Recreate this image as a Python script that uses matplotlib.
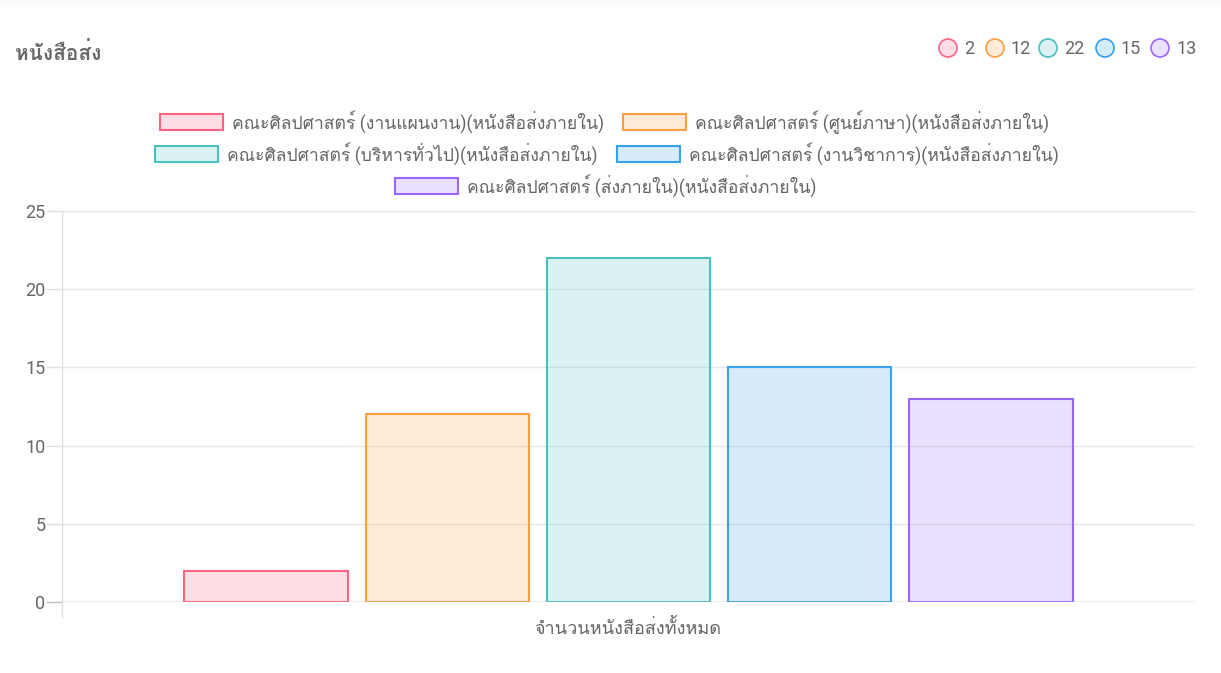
import matplotlib
matplotlib.use("Agg")
import matplotlib.pyplot as plt
from matplotlib.patches import Rectangle, Ellipse

plt.rcParams['font.family'] = ['Roboto', 'Loma', 'Noto Sans Thai Looped', 'DejaVu Sans']

# ---- data ----
title = "หนังสือส่ง"
category = "จำนวนหนังสือส่งทั้งหมด"
series_labels = [
    "คณะศิลปศาสตร์ (งานแผนงาน)(หนังสือส่งภายใน)",
    "คณะศิลปศาสตร์ (ศูนย์ภาษา)(หนังสือส่งภายใน)",
    "คณะศิลปศาสตร์ (บริหารทั่วไป)(หนังสือส่งภายใน)",
    "คณะศิลปศาสตร์ (งานวิชาการ)(หนังสือส่งภายใน)",
    "คณะศิลปศาสตร์ (ส่งภายใน)(หนังสือส่งภายใน)",
]
series_values = [2, 12, 22, 15, 13]
y_ticks = [0, 5, 10, 15, 20, 25]

colors = [(255, 99, 132), (255, 159, 64), (75, 192, 192), (54, 162, 235), (153, 102, 255)]
edge = [tuple(c / 255 for c in rgb) for rgb in colors]
face = [tuple(c / 255 for c in rgb) + (0.2,) for rgb in colors]

W, H = 1221, 673
fig = plt.figure(figsize=(W / 100, H / 100), dpi=100)

def fx(px):
    return px / W

def fy(py):
    return 1 - py / H

FS = 13
TXT = '#666666'

# faint top band
fig.add_artist(Rectangle((0, fy(7)), 1, 7 / H, transform=fig.transFigure,
                         facecolor='#fafafa', edgecolor='none'))

# plot area
x0, x1, yt, yb = 62, 1195, 211, 602
ax = fig.add_axes([fx(x0), fy(yb), fx(x1) - fx(x0), fy(yt) - fy(yb)])
n = len(series_values)
slot = 0.8 / n
bw = slot * 0.9
for i, v in enumerate(series_values):
    xc = -0.4 + slot * (i + 0.5)
    ax.bar(xc, v, width=bw, color=face[i], edgecolor=edge[i], linewidth=1.5, zorder=3)

ax.set_xlim(-0.5, 0.5)
ax.set_ylim(0, 25)
ax.set_yticks(y_ticks)
ax.set_xticks([])
for s in ax.spines.values():
    s.set_visible(False)
ax.yaxis.grid(True, color='#e6e6e6', linewidth=1, zorder=0)
ax.tick_params(axis='y', length=0, pad=12, labelsize=FS, labelcolor=TXT)
ax.axhline(0, color='#bfbfbf', linewidth=1, zorder=4)
ax.axvline(-0.5, color='#e0e0e0', linewidth=1, zorder=1)
for t in y_ticks:
    fig.add_artist(plt.Line2D([fx(47), fx(62)], [fy(yb - (yb - yt) * t / 25)] * 2,
                              color='#e0e0e0' if t else '#bfbfbf', linewidth=1))
fig.add_artist(plt.Line2D([fx(62), fx(62)], [fy(602), fy(617)], color='#e0e0e0', linewidth=1))

# x category label
fig.text(fx(628), fy(628), category, ha='center', va='center', fontsize=FS, color=TXT)

# title
fig.text(fx(15), fy(53), title, ha='left', va='center', fontsize=15, fontweight='bold', color=TXT)

# top-right value legend
circ_x = [948, 995, 1048, 1105, 1160]
for i, v in enumerate(series_values):
    cx = circ_x[i]
    e = Ellipse((fx(cx), fy(48)), width=18 / W, height=18 / H, transform=fig.transFigure,
                facecolor=face[i], edgecolor=edge[i], linewidth=1.2)
    fig.add_artist(e)
    fig.text(fx(cx + 16), fy(49), str(v), ha='left', va='center', fontsize=FS, color=TXT)

# series legend
leg_pos = [(160, 122), (623, 122), (155, 154), (617, 154), (395, 186)]
for i, lab in enumerate(series_labels):
    bx, by = leg_pos[i]
    r = Rectangle((fx(bx), fy(by + 8)), fx(63), 16 / H, transform=fig.transFigure,
                  facecolor=face[i], edgecolor=edge[i], linewidth=1.5)
    fig.add_artist(r)
    fig.text(fx(bx + 72), fy(by), lab, ha='left', va='center', fontsize=12.7, color=TXT)

fig.savefig("out.png", dpi=100)
